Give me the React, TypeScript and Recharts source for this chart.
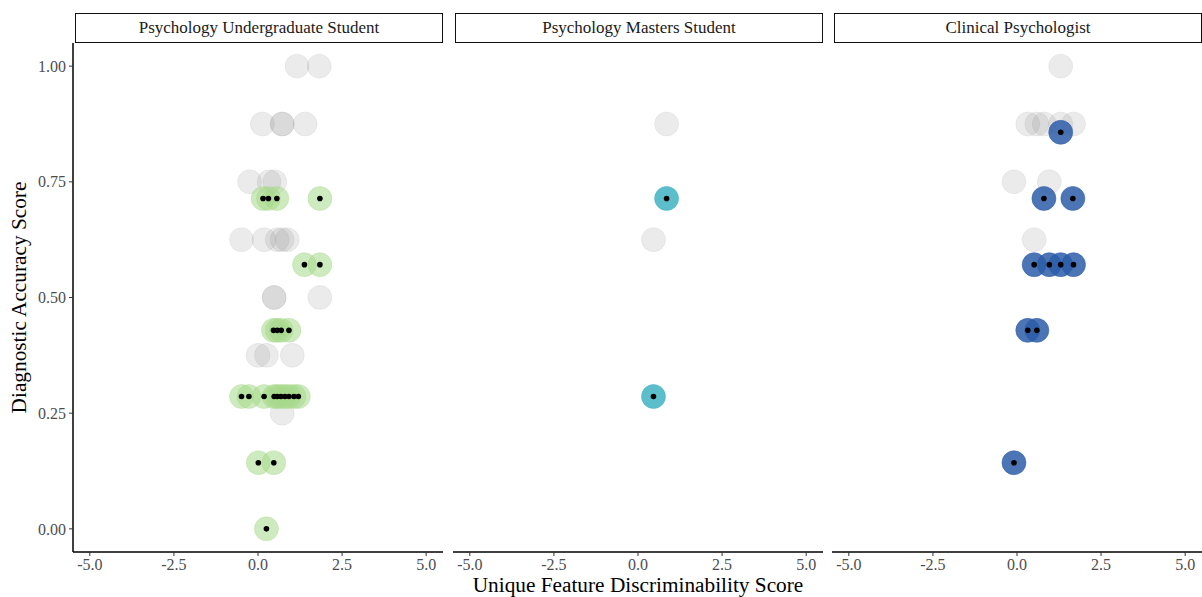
import { ScatterChart, Scatter, XAxis, YAxis } from 'recharts'

// Unique feature discriminability score (x) and diagnostic accuracy (y) per rater group.
// "Other" = all raters (grey backdrop), "Group" = raters in that facet.
const undergradOtherScore = [1.16, 1.82, 0.13, 0.72, 0.72, 1.4, -0.25, 0.33, 0.5, -0.49, 0.18, 0.57, 0.72, 0.87, 0.48, 0.48, 1.84, 0.0, 0.25, 1.02, 0.72]
const undergradOtherAccuracy = [1.0, 1.0, 0.875, 0.875, 0.875, 0.875, 0.75, 0.75, 0.75, 0.625, 0.625, 0.625, 0.625, 0.625, 0.5, 0.5, 0.5, 0.375, 0.375, 0.375, 0.25]
const undergradGroupScore = [0.15, 0.31, 0.56, 1.84, 1.38, 1.84, 0.46, 0.57, 0.69, 0.92, -0.49, -0.27, 0.18, 0.48, 0.57, 0.68, 0.8, 0.92, 1.07, 1.2, 0.01, 0.47, 0.25]
const undergradGroupAccuracy = [0.714, 0.714, 0.714, 0.714, 0.571, 0.571, 0.429, 0.429, 0.429, 0.429, 0.286, 0.286, 0.286, 0.286, 0.286, 0.286, 0.286, 0.286, 0.286, 0.286, 0.143, 0.143, 0.0]

const mastersOtherScore = [0.85, 0.46]
const mastersOtherAccuracy = [0.875, 0.625]
const mastersGroupScore = [0.85, 0.46]
const mastersGroupAccuracy = [0.714, 0.286]

const clinicalOtherScore = [1.3, 0.32, 0.59, 0.81, 1.3, 1.68, -0.09, 0.96, 0.51]
const clinicalOtherAccuracy = [1.0, 0.875, 0.875, 0.875, 0.875, 0.875, 0.75, 0.75, 0.625]
const clinicalGroupScore = [1.3, 0.8, 1.66, 0.51, 0.96, 1.3, 1.68, 0.32, 0.59, -0.09]
const clinicalGroupAccuracy = [0.857, 0.714, 0.714, 0.571, 0.571, 0.571, 0.571, 0.429, 0.429, 0.143]

const xTicks = [-5, -2.5, 0, 2.5, 5]
const yTicks = [0, 0.25, 0.5, 0.75, 1]

const FONT = '"Liberation Serif", "Times New Roman", serif'

const zip = (xs: number[], ys: number[]) => xs.map((x, i) => ({ x, y: ys[i] }))

const bubble = (fill: string, opacity: number) => (props: any) => (
  <circle cx={props.cx} cy={props.cy} r={12} fill={fill} fillOpacity={opacity} stroke={fill} strokeOpacity={opacity * 0.6} strokeWidth={1} />
)

const dot = (props: any) => <circle cx={props.cx} cy={props.cy} r={2.8} fill="#000" />

interface PanelProps {
  title: string
  left: number
  width: number
  showY?: boolean
  showXTitle?: boolean
  other: { x: number, y: number }[]
  group: { x: number, y: number }[]
  color: string
  opacity: number
}

function Panel({ title, left, width, showY, showXTitle, other, group, color, opacity }: PanelProps) {
  const yw = showY ? 73 : 0
  return (
    <div style={{ position: 'absolute', left, top: 0 }}>
      <div style={{
        position: 'absolute', left: yw + 2, top: 13, width: width - yw - 2, height: 30,
        boxSizing: 'border-box', border: '1.5px solid #111', fontFamily: FONT, fontSize: 17,
        display: 'flex', alignItems: 'center', justifyContent: 'center', color: '#1a1a1a',
      }}>{title}</div>
      <ScatterChart width={width} height={597} margin={{ top: 43, right: 0, bottom: 0, left: 0 }}>
        <XAxis
          type="number"
          dataKey="x"
          domain={[-5.5, 5.5]}
          ticks={xTicks}
          tickFormatter={(v: number) => v.toFixed(1)}
          height={45}
          allowDataOverflow
          axisLine={{ stroke: '#000', strokeWidth: 1.5 }}
          tickLine={{ stroke: '#333' }}
          tickSize={4}
          tickMargin={3}
          tick={{ fontSize: 16, fill: '#4d4d4d', fontFamily: FONT }}
          label={showXTitle ? {
            content: ({ viewBox }: any) => (
              <text x={viewBox.x + viewBox.width / 2} y={592} textAnchor="middle" fontSize={21.3} fontFamily={FONT} fill="#000">
                Unique Feature Discriminability Score
              </text>
            ),
          } : undefined}
        />
        <YAxis
          type="number"
          dataKey="y"
          domain={[-0.05, 1.05]}
          ticks={yTicks}
          tickFormatter={(v: number) => v.toFixed(2)}
          width={73}
          hide={!showY}
          allowDataOverflow
          axisLine={{ stroke: '#000', strokeWidth: 1.5 }}
          tickLine={{ stroke: '#333' }}
          tickSize={4}
          tickMargin={3}
          tick={{ fontSize: 16, fill: '#4d4d4d', fontFamily: FONT }}
          label={showY ? {
            content: ({ viewBox }: any) => {
              const cx = 19
              const cy = viewBox.y + viewBox.height / 2
              return (
                <text x={cx} y={cy} transform={`rotate(-90, ${cx}, ${cy})`} textAnchor="middle" dominantBaseline="central" fontSize={21.3} fontFamily={FONT} fill="#000">
                  Diagnostic Accuracy Score
                </text>
              )
            },
          } : undefined}
        />
        <Scatter data={other} shape={bubble('#808080', 0.16)} isAnimationActive={false} />
        <Scatter data={group} shape={bubble(color, opacity)} isAnimationActive={false} />
        <Scatter data={group} shape={dot} isAnimationActive={false} />
      </ScatterChart>
    </div>
  )
}

export default function App() {
  return (
    <div style={{ position: 'absolute', left: 0, top: 0, width: 1202, height: 597, background: '#fff', overflow: 'hidden' }}>
      <Panel
        title="Psychology Undergraduate Student"
        left={0}
        width={443}
        showY
        other={zip(undergradOtherScore, undergradOtherAccuracy)}
        group={zip(undergradGroupScore, undergradGroupAccuracy)}
        color="#a6d98a"
        opacity={0.55}
      />
      <Panel
        title="Psychology Masters Student"
        left={453}
        width={370}
        showXTitle
        other={zip(mastersOtherScore, mastersOtherAccuracy)}
        group={zip(mastersGroupScore, mastersGroupAccuracy)}
        color="#3fb3c2"
        opacity={0.85}
      />
      <Panel
        title="Clinical Psychologist"
        left={832}
        width={370}
        other={zip(clinicalOtherScore, clinicalOtherAccuracy)}
        group={zip(clinicalGroupScore, clinicalGroupAccuracy)}
        color="#2d5da8"
        opacity={0.85}
      />
    </div>
  )
}
